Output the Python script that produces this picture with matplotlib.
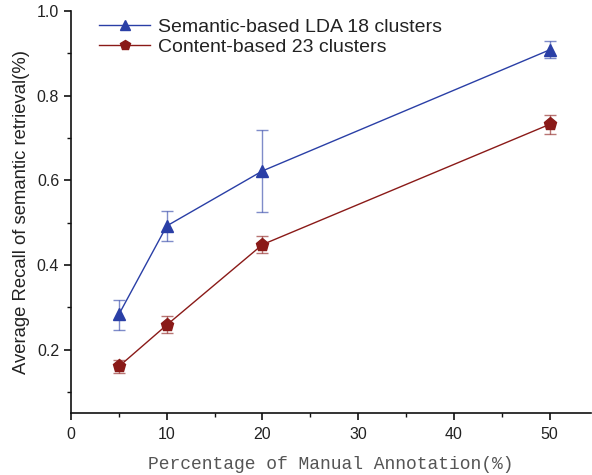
import matplotlib
matplotlib.use("Agg")
import matplotlib.pyplot as plt
from matplotlib.ticker import MultipleLocator

pct = [5, 10, 20, 50]

lda_mean = [0.283, 0.492, 0.622, 0.908]
lda_lo = [0.247, 0.457, 0.524, 0.888]
lda_hi = [0.318, 0.527, 0.718, 0.930]

content_mean = [0.160, 0.258, 0.448, 0.732]
content_lo = [0.145, 0.240, 0.428, 0.710]
content_hi = [0.175, 0.280, 0.468, 0.755]

lda_label = "Semantic-based LDA 18 clusters"
content_label = "Content-based 23 clusters"

blue = "#2a3fa6"
red = "#8a1a18"

plt.rcParams["font.family"] = ["Liberation Sans", "DejaVu Sans"]

fig = plt.figure(figsize=(5.92, 4.75), dpi=100)
ax = fig.add_axes([0.12, 0.1305, 0.878, 0.8465])


def draw(mean, lo, hi, color, marker, ms, label):
    yerr = [[m - l for m, l in zip(mean, lo)], [h - m for m, h in zip(mean, hi)]]
    ax.errorbar(pct, mean, yerr=yerr, fmt="none", ecolor=color, alpha=0.6,
                elinewidth=1.0, capsize=4, capthick=1.0, zorder=2)
    ax.plot(pct, mean, color=color, lw=1.0, marker=marker, ms=ms,
            markerfacecolor=color, markeredgecolor=color, label=label, zorder=3)


draw(lda_mean, lda_lo, lda_hi, blue, "^", 9, lda_label)
draw(content_mean, content_lo, content_hi, red, "p", 9.5, content_label)

ax.set_xlim(0, 54.3)
ax.set_ylim(0.05, 1.0)
ax.xaxis.set_major_locator(MultipleLocator(10))
ax.xaxis.set_minor_locator(MultipleLocator(5))
ax.yaxis.set_major_locator(MultipleLocator(0.2))
ax.yaxis.set_minor_locator(MultipleLocator(0.1))
ax.yaxis.set_major_formatter(plt.FuncFormatter(lambda v, p: f"{v:.1f}"))

for s in ["top", "right"]:
    ax.spines[s].set_visible(False)
for s in ["left", "bottom"]:
    ax.spines[s].set_linewidth(1.2)
    ax.spines[s].set_color("#111111")

ax.tick_params(which="major", direction="out", length=5, width=1.2,
               labelsize=11.5, colors="#111111", labelcolor="#222222")
ax.tick_params(axis="x", which="major", pad=5)
ax.tick_params(which="minor", direction="out", length=3, width=1.0,
               colors="#111111")

ax.set_ylabel("Average Recall of semantic retrieval(%)", fontsize=13.3,
              color="#222222", labelpad=5)
ax.set_xlabel("Percentage of Manual Annotation(%)", fontsize=13,
              family=["Liberation Mono", "DejaVu Sans Mono"], color="#555555",
              labelpad=10)

leg = ax.legend(loc="upper left", bbox_to_anchor=(0.032, 1.01), frameon=False,
                fontsize=14, handlelength=2.6, handletextpad=0.4,
                labelspacing=0.12, borderaxespad=0.2, markerscale=0.8)
for t in leg.get_texts():
    t.set_color("#222222")

fig.savefig("out.png", dpi=100)
